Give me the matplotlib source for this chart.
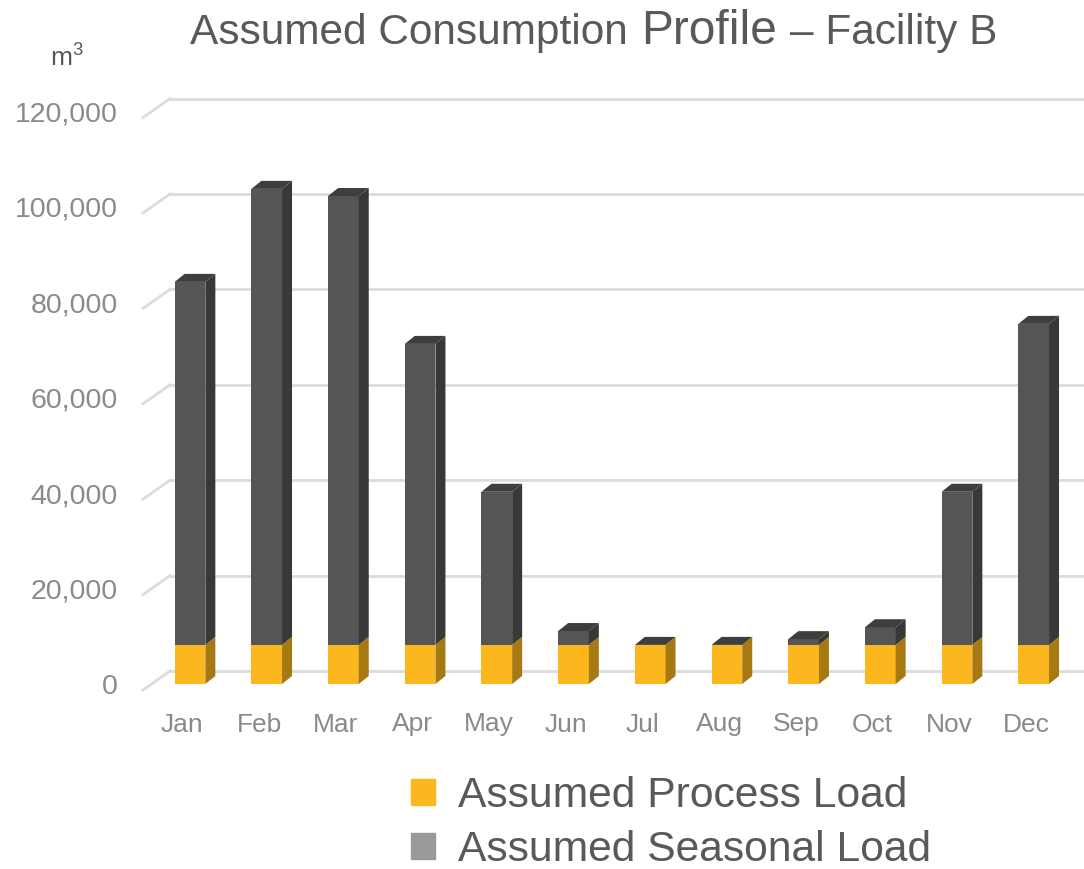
import numpy as np
import matplotlib.pyplot as plt
from matplotlib.patches import Patch

plt.rcParams['font.family'] = ['Liberation Sans', 'DejaVu Sans']
plt.rcParams['mathtext.fontset'] = 'custom'
plt.rcParams['mathtext.rm'] = 'Liberation Sans'

# data (m3)
months = ['Jan', 'Feb', 'Mar', 'Apr', 'May', 'Jun', 'Jul', 'Aug', 'Sep', 'Oct', 'Nov', 'Dec']
process_load = [8200] * 12
seasonal_load = [76100, 95600, 94100, 63100, 32100, 2900, 0, 0, 1200, 3700, 32100, 67300]
y_ticks = [0, 20000, 40000, 60000, 80000, 100000, 120000]

W, H = 1084, 869
PX_X = 76.7          # pixels per category
PX_Y = 4.77 / 1000   # pixels per m3

c_proc, c_proc_side = '#FDB71E', '#A77913'
c_seas, c_seas_side, c_top = '#555555', '#383838', '#3E3E3E'
grid_c = '#DCDCDC'
txt_c = '#595959'
tick_c = '#8A8A8A'

fig = plt.figure(figsize=(W / 100, H / 100), dpi=100)
# axes placed so that one category = PX_X px, bar bottom at y=684 px
ax_l, ax_r, ax_t, ax_b = 140, 1084, 60, 700
ax = fig.add_axes([ax_l / W, 1 - ax_b / H, (ax_r - ax_l) / W, (ax_b - ax_t) / H])
ax.set_xlim((ax_l - 190) / PX_X, (ax_r - 190) / PX_X)
ax.set_ylim(-(ax_b - 684) / PX_Y, (684 - ax_t) / PX_Y)
for s in ax.spines.values():
    s.set_visible(False)

# 3d offsets
bw = 0.2
ddx, ddy = 10 / PX_X, 8 / PX_Y           # bar depth
wall_x0 = (170 - 190) / PX_X             # back wall start
front_x0 = (143 - 190) / PX_X
wall_dy = 13 / PX_Y
front_dy = -6 / PX_Y

x_end = ax.get_xlim()[1]
for v in y_ticks:
    ax.plot([wall_x0, x_end], [v + wall_dy, v + wall_dy], color=grid_c, lw=2, zorder=0)
    ax.plot([front_x0, wall_x0], [v + front_dy, v + wall_dy], color=grid_c, lw=2, zorder=0)

x = np.arange(len(months))
proc = np.array(process_load)
seas = np.array(seasonal_load)
ax.bar(x, proc, width=2 * bw, color=c_proc, zorder=2)
ax.bar(x, seas, bottom=proc, width=2 * bw, color=c_seas, zorder=2)

for xi, p, s in zip(x, proc, seas):
    r = xi + bw
    l = xi - bw
    # side faces
    ax.fill([r, r + ddx, r + ddx, r], [0, ddy, p + ddy, p], color=c_proc_side, lw=0, zorder=2)
    if s > 0:
        ax.fill([r, r + ddx, r + ddx, r], [p, p + ddy, p + s + ddy, p + s],
                color=c_seas_side, lw=0, zorder=2)
    top = p + s
    ax.fill([l, l + ddx, r + ddx, r], [top, top + ddy, top + ddy, top], color=c_top, lw=0, zorder=2)

ax.set_yticks(y_ticks, [f'{v:,}' for v in y_ticks])
ax.set_xticks(x - 0.1, months)
ax.tick_params(axis='y', length=0, pad=16, labelsize=20.5, labelcolor=tick_c)
ax.tick_params(axis='x', length=0, pad=9, labelsize=19, labelcolor=tick_c)

# title in three sizes
fig.text(190 / W, 1 - 44 / H, 'Assumed Consumption', fontsize=30.5, color=txt_c, va='baseline')
fig.text(641 / W, 1 - 44 / H, 'Profile', fontsize=34.5, color=txt_c, va='baseline')
fig.text(790 / W, 1 - 44 / H, '\u2013 Facility B', fontsize=30.5, color=txt_c, va='baseline')
fig.text(50 / W, 1 - 66 / H, 'm$^{3}$', fontsize=19, color=txt_c, ha='left', va='baseline')

handles = [Patch(color=c_proc), Patch(color='#999999')]
fig.legend(handles, ['Assumed Process Load', 'Assumed Seasonal Load'],
           loc='upper left', bbox_to_anchor=(390 / W, 1 - 755 / H), frameon=False,
           fontsize=30.7, labelcolor=txt_c, handlelength=0.55, handleheight=0.55,
           handletextpad=0.55, labelspacing=0.33, borderpad=0)

fig.savefig('out.png', dpi=100)
